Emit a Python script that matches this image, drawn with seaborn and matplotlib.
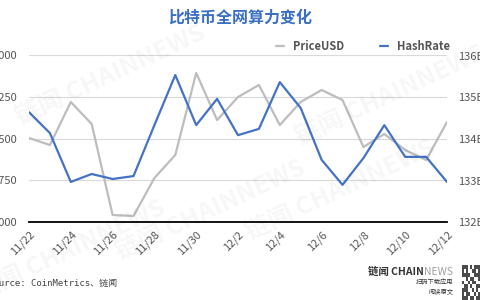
import numpy as np
import pandas as pd
import seaborn as sns
import matplotlib
matplotlib.use("Agg")
import matplotlib.pyplot as plt
from matplotlib.lines import Line2D

# ---- data ----
dates = ["11/22", "11/23", "11/24", "11/25", "11/26", "11/27", "11/28", "11/29", "11/30",
         "12/1", "12/2", "12/3", "12/4", "12/5", "12/6", "12/7", "12/8", "12/9", "12/10",
         "12/11", "12/12"]
price_usd = [6509, 6383, 7156, 6760, 5126, 5108, 5790, 6204, 7677, 6832, 7245, 7461,
             6742, 7156, 7371, 7192, 6347, 6581, 6293, 6114, 6796]
hash_rate = [134.63, 134.13, 132.96, 133.15, 133.03, 133.10, 134.32, 135.52, 134.32, 134.95,
             134.08, 134.23, 135.35, 134.73, 133.49, 132.89, 133.53, 134.32, 133.56, 133.56,
             132.96]
left_ticks = [5000, 5750, 6500, 7250, 8000]
right_ticks = [132, 133, 134, 135, 136]
xtick_labels = ["11/22", "11/24", "11/26", "11/28", "11/30", "12/2", "12/4", "12/6",
                "12/8", "12/10", "12/12"]

df = pd.DataFrame({"day": np.arange(len(dates)), "date": dates,
                   "PriceUSD": price_usd, "HashRate": hash_rate})

sns.set_theme(style="white")
plt.rcParams["font.family"] = ["Noto Sans CJK SC", "DejaVu Sans"]

GRAY = "#bdbdbd"
BLUE = "#4472c4"
TXT = "#555555"

fig = plt.figure(figsize=(4.8, 3.0), dpi=100)
fig.patch.set_facecolor("white")
ax = fig.add_axes([29 / 480, 1 - 222 / 300, (447 - 29) / 480, (222 - 55) / 300])
ax2 = ax.twinx()

sns.lineplot(data=df, x="day", y="PriceUSD", ax=ax, color=GRAY, linewidth=1.6)
sns.lineplot(data=df, x="day", y="HashRate", ax=ax2, color=BLUE, linewidth=1.6)

ax.set_xlim(0, len(dates) - 1)
ax.set_ylim(left_ticks[0], left_ticks[-1])
ax2.set_ylim(right_ticks[0], right_ticks[-1])
ax.set_yticks(left_ticks)
ax.set_yticklabels([f"{v:,}" for v in left_ticks])
ax2.set_yticks(right_ticks)
ax2.set_yticklabels([f"{v}EH/s" for v in right_ticks])

tick_pos = [dates.index(d) for d in xtick_labels]
ax.set_xticks(tick_pos)
ax.set_xticklabels(xtick_labels, rotation=45, ha="right", rotation_mode="anchor")

for a in (ax, ax2):
    a.set_xlabel("")
    a.set_ylabel("")
    for s in a.spines.values():
        s.set_visible(False)
    a.tick_params(length=0, labelsize=8, colors=TXT)
ax.tick_params(axis="y", pad=8.5)
ax2.tick_params(axis="y", pad=8)
ax.tick_params(axis="x", pad=5)
ax.spines["bottom"].set_visible(True)
ax.spines["bottom"].set_color("black")
ax.spines["bottom"].set_linewidth(1.3)
ax.grid(axis="y", color="#d9d9d9", linewidth=0.8)
ax.set_axisbelow(True)
ax.set_zorder(ax2.get_zorder() - 1)
ax.patch.set_visible(False)

# title
fig.text(0.5, 1 - 18 / 300, "比特币全网算力变化", ha="center", va="center",
         fontsize=11.5, fontweight="bold", color="#3a6fc6")

# legend
handles = [Line2D([0], [0], color=GRAY, lw=1.6), Line2D([0], [0], color=BLUE, lw=1.6)]
fig.legend(handles, ["PriceUSD", "HashRate"], loc="center", bbox_to_anchor=(363 / 480, 1 - 46 / 300),
           ncol=2, frameon=False, handlelength=0.7, handletextpad=0.8, columnspacing=3.2,
           prop={"size": 8, "weight": "semibold"}, labelcolor="#555555")

# source
fig.text(-12 / 480, 1 - 283 / 300, "Source: CoinMetrics、链闻", ha="left", va="center",
         fontsize=6.5, color="#444444", family=["DejaVu Sans Mono", "Noto Sans CJK SC"])

# branding
fig.canvas.draw()
renderer = fig.canvas.get_renderer()
t_news = fig.text(453 / 480, 1 - 272 / 300, "NEWS", ha="right", va="center", fontsize=7.5,
                  color="#a0a0a0")
bb = t_news.get_window_extent(renderer=renderer)
fig.text(bb.x0 / fig.bbox.width, 1 - 272 / 300, "链闻 CHAIN", ha="right", va="center",
         fontsize=7.5, fontweight="bold", color="#333333")
fig.text(453 / 480, 1 - 283 / 300, "扫码下载应用", ha="right", va="center", fontsize=4.5, color="#333333")
fig.text(453 / 480, 1 - 292 / 300, "阅读原文", ha="right", va="center", fontsize=4.5, color="#333333")

# QR-like badge
qax = fig.add_axes([462 / 480, 0, 18 / 480, 35 / 300])
pattern = np.array([
    [1, 1, 1, 0, 1, 0, 1, 1, 1],
    [1, 0, 1, 0, 0, 1, 1, 0, 1],
    [1, 1, 1, 1, 0, 0, 1, 1, 1],
    [0, 0, 1, 0, 1, 1, 0, 0, 1],
    [1, 0, 0, 1, 0, 1, 1, 0, 0],
    [0, 1, 1, 0, 1, 0, 0, 1, 1],
    [1, 1, 1, 0, 0, 1, 0, 1, 0],
    [1, 0, 1, 1, 0, 0, 1, 0, 1],
    [1, 1, 1, 0, 1, 1, 0, 1, 1],
])
qax.imshow(pattern, cmap="Greys", vmin=0, vmax=1.3, aspect="auto", interpolation="nearest")
qax.axis("off")

# watermarks
for (x, y) in [(110, 75), (390, 95), (70, 250), (340, 190), (210, 210)]:
    fig.text(x / 480, 1 - y / 300, "链闻 CHAINNEWS", ha="center", va="center", fontsize=18,
             fontweight="bold", color="#000000", alpha=0.035, rotation=25)

fig.savefig("out.png", dpi=100, facecolor="white")
